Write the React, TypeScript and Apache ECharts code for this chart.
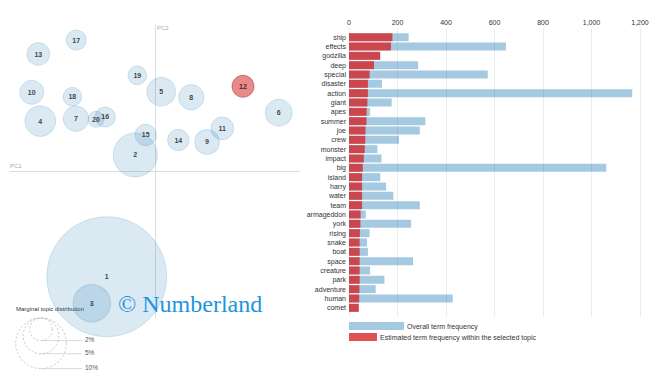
import React, { useEffect, useRef } from 'react';
import * as echarts from 'echarts';

// ---- Intertopic distance map (PC coordinates, marginal share in %) ----
const topicIds = [1, 2, 3, 4, 5, 6, 7, 8, 9, 10, 11, 12, 13, 14, 15, 16, 17, 18, 19, 20];
const topicPC1 = [-0.333, -0.136, -0.436, -0.791, 0.043, 0.853, -0.545, 0.25, 0.359, -0.85, 0.464, 0.607, -0.805, 0.161, -0.064, -0.343, -0.543, -0.57, -0.122, -0.407];
const topicPC2 = [-0.724, 0.11, -0.906, 0.342, 0.543, 0.399, 0.358, 0.505, 0.199, 0.539, 0.292, 0.58, 0.801, 0.212, 0.247, 0.37, 0.897, 0.509, 0.655, 0.354];
const topicShare = [56.2, 7.6, 5.5, 3.7, 3.2, 2.8, 2.5, 2.5, 2.4, 2.25, 2.0, 1.9, 2.0, 1.8, 1.8, 1.56, 1.56, 1.35, 1.35, 1.0];
const selectedTopic = 12;
const legendShares = [2, 5, 10];
const legendShareLabels = ['2%', '5%', '10%'];

// ---- Top terms for the selected topic ----
const terms = ['ship', 'effects', 'godzilla', 'deep', 'special', 'disaster', 'action', 'giant', 'apes', 'summer', 'joe', 'crew', 'monster', 'impact', 'big', 'island', 'harry', 'water', 'team', 'armageddon', 'york', 'rising', 'snake', 'boat', 'space', 'creature', 'park', 'adventure', 'human', 'comet'];
const overallFreq = [246, 647, 130, 285, 572, 136, 1168, 176, 87, 315, 292, 206, 117, 134, 1061, 129, 153, 183, 292, 69, 256, 85, 74, 78, 264, 87, 146, 110, 428, 41];
const topicFreq = [179, 173, 128, 103, 85, 78, 78, 76, 73, 72, 68, 67, 65, 61, 57, 54, 54, 54, 54, 48, 47, 45, 44, 44, 44, 44, 44, 43, 42, 40];
const freqMax = 1200;
const freqInterval = 200;

const SANS = 'Liberation Sans, Arial, sans-serif';
const K = 8; // radius (px) per sqrt(percent)

export default function App() {
  const ref = useRef<HTMLDivElement>(null);
  useEffect(() => {
    document.body.style.margin = '0';
    const chart = echarts.init(ref.current!, null, { renderer: 'svg' });

    const scatterData = topicIds.map((id, i) => {
      const sel = id === selectedTopic;
      return {
        value: [topicPC1[i], topicPC2[i], topicShare[i], id],
        itemStyle: sel
          ? { color: 'rgba(214,39,40,0.68)', borderColor: 'rgba(140,20,20,0.55)', borderWidth: 1 }
          : { color: 'rgba(31,119,180,0.2)', borderColor: 'rgba(31,119,180,0.22)', borderWidth: 1 },
      };
    });

    // legend circles (top-aligned)
    const lcx = 41;
    const ltop = 318;
    const legendGraphics: any[] = [];
    legendShares.forEach((s, i) => {
      const r = K * Math.sqrt(s);
      const bottom = ltop + 2 * r;
      legendGraphics.push({
        type: 'circle',
        shape: { cx: lcx, cy: ltop + r, r },
        style: { fill: 'none', stroke: '#b0b0b0', lineWidth: 0.7, lineDash: [2, 2] },
        silent: true,
      });
      legendGraphics.push({
        type: 'line',
        shape: { x1: lcx, y1: bottom, x2: 82, y2: bottom },
        style: { stroke: '#c8c8c8', lineWidth: 0.7 },
        silent: true,
      });
      legendGraphics.push({
        type: 'text',
        x: 85,
        y: bottom - 1,
        style: { text: legendShareLabels[i], fill: '#555', font: `6.5px ${SANS}`, verticalAlign: 'middle' },
        silent: true,
      });
    });

    chart.setOption({
      animation: false,
      textStyle: { fontFamily: SANS },
      grid: [
        { left: 10, top: 25, width: 290, height: 292 },
        { left: 349, top: 32.5, width: 291, height: 280 },
        { left: 349, top: 28, width: 291, height: 289 },
      ],
      xAxis: [
        {
          gridIndex: 0, type: 'value', min: -1, max: 1,
          axisLine: { show: true, onZero: true, lineStyle: { color: '#dcdcdc', width: 1 } },
          axisTick: { show: false }, axisLabel: { show: false }, splitLine: { show: false },
        },
        { gridIndex: 1, type: 'value', min: 0, max: freqMax, show: false },
        {
          gridIndex: 2, type: 'value', min: 0, max: freqMax, interval: freqInterval, position: 'top',
          axisLine: { show: false }, axisTick: { show: false },
          axisLabel: {
            fontSize: 7, color: '#333', margin: 2,
            formatter: (v: number) => v.toLocaleString('en-US'),
          },
          splitLine: { show: true, lineStyle: { color: '#ececec', width: 1 } },
        },
      ],
      yAxis: [
        {
          gridIndex: 0, type: 'value', min: -1, max: 1,
          axisLine: { show: true, onZero: true, lineStyle: { color: '#dcdcdc', width: 1 } },
          axisTick: { show: false }, axisLabel: { show: false }, splitLine: { show: false },
        },
        {
          gridIndex: 1, type: 'category', data: terms, inverse: true,
          axisLine: { show: false }, axisTick: { show: false },
          axisLabel: { fontSize: 7, color: '#333', margin: 3, interval: 0 },
        },
        { gridIndex: 2, type: 'value', show: false, min: 0, max: 1 },
      ],
      legend: [
        {
          data: ['Overall term frequency'], left: 349, top: 322, padding: 0,
          itemWidth: 55, itemHeight: 8, icon: 'rect', selectedMode: false,
          textStyle: { fontSize: 7, color: '#333', padding: [0, 0, 0, -2] },
        },
        {
          data: ['Estimated term frequency within the selected topic'], left: 349, top: 333, padding: 0,
          itemWidth: 28, itemHeight: 8, icon: 'rect', selectedMode: false,
          textStyle: { fontSize: 7, color: '#333', padding: [0, 0, 0, -2] },
        },
      ],
      series: [
        {
          type: 'scatter', xAxisIndex: 0, yAxisIndex: 0,
          data: scatterData,
          symbolSize: (val: number[]) => 2 * K * Math.sqrt(val[2]),
          label: {
            show: true, position: 'inside', fontSize: 7, fontWeight: 'bold', color: '#111',
            formatter: (p: any) => String(p.value[3]),
          },
          emphasis: { disabled: true },
        },
        {
          name: 'Overall term frequency', type: 'bar', xAxisIndex: 1, yAxisIndex: 1,
          data: overallFreq, barWidth: 8, barGap: '-100%',
          itemStyle: { color: 'rgba(31,119,180,0.4)' },
        },
        {
          name: 'Estimated term frequency within the selected topic', type: 'bar', xAxisIndex: 1, yAxisIndex: 1,
          data: topicFreq, barWidth: 8, barGap: '-100%',
          itemStyle: { color: 'rgba(214,39,40,0.8)' },
        },
      ],
      graphic: [
        { type: 'text', x: 10, y: 166, style: { text: 'PC1', fill: '#aaa', font: `6px ${SANS}`, verticalAlign: 'middle' }, silent: true },
        { type: 'text', x: 157, y: 28, style: { text: 'PC2', fill: '#aaa', font: `6px ${SANS}`, verticalAlign: 'middle' }, silent: true },
        { type: 'text', x: 16, y: 309, style: { text: 'Marginal topic distribution', fill: '#333', font: `6px ${SANS}`, verticalAlign: 'middle' }, silent: true },
        ...legendGraphics,
        {
          type: 'text', x: 118, y: 304, z: 100,
          style: { text: '© Numberland', fill: '#1b95e0', font: '24px "Liberation Serif", "Times New Roman", serif', verticalAlign: 'middle' },
          silent: true,
        },
      ],
    });
    return () => chart.dispose();
  }, []);
  return <div ref={ref} style={{ width: 672, height: 385 }} />;
}
